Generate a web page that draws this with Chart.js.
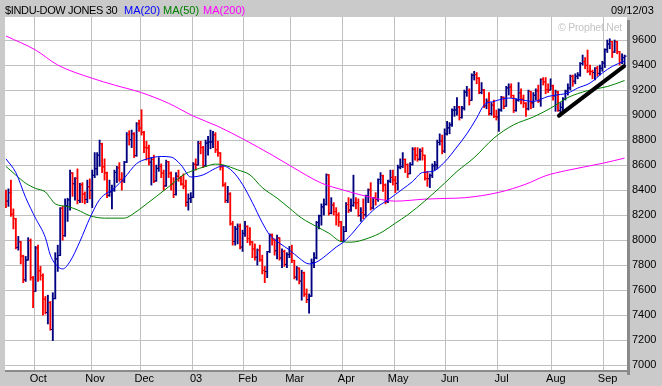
<!DOCTYPE html>
<html><head><meta charset="utf-8">
<script src="https://cdn.jsdelivr.net/npm/chart.js@4.4.1/dist/chart.umd.min.js"></script>
<style>
html,body{margin:0;padding:0;background:#cacaca;}
#wrap{position:relative;width:662px;height:386px;overflow:hidden;background:#cacaca;}
#c{position:absolute;left:0;top:0;}
.hd{position:absolute;top:4px;font-family:"Liberation Sans",Arial,sans-serif;font-size:11px;line-height:13px;white-space:nowrap;}
</style></head><body>
<div id="wrap">
<canvas id="c" width="662" height="386"></canvas>
<div class="hd" style="left:5px;color:#000;letter-spacing:-0.35px;">$INDU-DOW JONES 30</div>
<div class="hd" style="left:124px;color:#0000ff;">MA(20)</div>
<div class="hd" style="left:163px;color:#008000;">MA(50)</div>
<div class="hd" style="left:203px;color:#ff00ff;">MA(200)</div>
<div class="hd" style="left:611px;color:#000;">09/12/03</div>
<div class="hd" style="left:558px;top:21px;font-size:10.5px;letter-spacing:-0.2px;color:#c4c4c4;">© Prophet.Net</div>
</div>
<script>
// Trading days from 2002-09-13 to 2003-09-12 (index 0..251)
const monthLabels = ['Oct','Nov','Dec','03','Feb','Mar','Apr','May','Jun','Jul','Aug','Sep'];
const monthStart  = [12,35,55,76,97,116,137,158,179,200,222,243];
const yTicks = [7000,7200,7400,7600,7800,8000,8200,8400,8600,8800,9000,9200,9400,9600];

const open = [
8379,8312,8380,8207,8172,7942,7986,7872,7683,7841,7997,7701,
7592,7938,7755,7717,7528,7422,7501,7286,7533,7850,7877,8255,8036,8275,8322,8538,8451,8494,8318,8444,8368,8325,8427,
8397,8518,8571,8679,8771,8586,8538,8358,8386,8398,8542,8579,8486,8474,8623,8845,8804,8849,8676,8931,
8896,8862,8742,8737,8623,8645,8473,8574,8589,8536,8433,8627,8535,8448,8365,8511,8493,8448,8432,8303,8332,
8342,8607,8601,8773,8740,8595,8776,8784,8785,8842,8723,8697,8586,8442,8318,8369,8131,7989,8088,8110,7945,
8054,8110,8013,7985,7930,7864,7919,7843,7758,7749,7909,8042,8000,7915,8018,7858,7910,7806,7885,
7891,7838,7705,7775,7673,7740,7568,7525,7552,7822,7859,8141,8195,8266,8286,8522,8215,8280,8229,8201,8145,
7992,8069,8285,8241,8278,8300,8299,8197,8221,8203,8352,8403,8257,8338,8328,8485,8516,8441,8307,8471,8502,
8480,8454,8583,8588,8645,8604,8531,8604,8726,8679,8647,8713,8679,8493,8491,8516,8594,8601,8781,8793,8712,
8850,8898,8922,9039,9041,9063,8980,9055,9184,9197,9118,9318,9324,9294,9180,9201,9073,9110,9012,9080,8989,
8985,9040,9142,9070,9217,9224,9156,9037,9119,9178,9128,9094,9050,9189,9097,9158,9194,9112,9285,9266,9204,9200,
9234,9154,9186,9037,9062,9127,9191,9217,9310,9271,9310,9321,9412,9428,9397,9349,9348,9340,9374,9333,9374,
9416,9523,9568,9588,9504,9587,9507,9420,9459];

const high = [
8400,8410,8480,8250,8175,8030,7990,7880,7870,8020,8010,7710,
7950,7960,7790,7730,7550,7560,7510,7580,7900,7960,8260,8270,8330,8335,8560,8540,8500,8570,8455,8460,8385,8480,8490,
8560,8700,8700,8800,8775,8650,8545,8480,8440,8560,8590,8620,8540,8630,8860,8875,8880,8860,8940,8960,
9043,8870,8790,8760,8660,8680,8600,8660,8610,8560,8640,8630,8545,8500,8540,8560,8510,8530,8480,8370,8380,
8620,8650,8790,8790,8750,8800,8830,8880,8870,8860,8790,8700,8600,8460,8430,8380,8150,8110,8130,8130,8080,
8150,8115,8100,7990,7970,7930,7960,7880,7790,7910,8050,8050,8010,8040,8020,7930,7920,7900,7950,
7960,7840,7790,7780,7760,7745,7610,7570,7850,7900,8150,8200,8290,8330,8530,8525,8340,8300,8260,8220,8150,
8110,8300,8340,8330,8520,8340,8330,8260,8330,8360,8410,8460,8340,8380,8490,8540,8520,8450,8480,8560,8560,
8510,8600,8650,8700,8650,8610,8620,8740,8740,8740,8730,8740,8680,8550,8530,8610,8630,8800,8850,8840,8890,
8950,8940,9050,9070,9140,9070,9070,9200,9230,9210,9330,9350,9340,9300,9260,9205,9130,9180,9100,9120,9040,
9050,9150,9145,9230,9250,9250,9160,9130,9260,9210,9160,9100,9200,9190,9180,9210,9240,9290,9300,9300,9250,9290,
9240,9200,9190,9100,9140,9200,9250,9320,9320,9330,9340,9420,9480,9460,9520,9400,9360,9380,9390,9400,9430,
9530,9600,9610,9590,9600,9590,9510,9490,9480];

const low = [
8260,8270,8190,8090,7930,7920,7810,7660,7670,7840,7680,7460,
7590,7670,7680,7400,7410,7330,7280,7197,7530,7750,7876,8000,8030,8150,8240,8350,8320,8290,8300,8300,8290,8300,8330,
8260,8500,8520,8590,8540,8480,8340,8350,8250,8390,8460,8470,8400,8460,8620,8760,8740,8660,8670,8870,
8840,8700,8640,8600,8440,8460,8470,8550,8500,8400,8430,8500,8400,8340,8360,8470,8440,8410,8270,8240,8300,
8340,8560,8600,8690,8580,8590,8680,8730,8740,8700,8670,8560,8430,8300,8300,8120,7960,7960,7970,7930,7910,
8030,7980,7960,7860,7840,7800,7830,7730,7660,7700,7900,7960,7880,7850,7840,7780,7790,7780,7860,
7820,7690,7680,7650,7520,7550,7500,7416,7550,7780,7850,8090,8120,8200,8280,8200,8210,8200,8120,8110,7990,
7990,8068,8220,8230,8270,8250,8190,8150,8170,8190,8300,8240,8250,8280,8310,8450,8390,8290,8300,8460,8440,
8380,8400,8570,8580,8540,8500,8530,8600,8640,8630,8640,8640,8480,8430,8420,8500,8560,8570,8760,8690,8700,
8840,8850,8910,8990,9000,8960,8975,9040,9150,9080,9117,9280,9250,9170,9170,9060,9050,9000,9000,8980,8960,
8870,9030,9050,9070,9160,9140,9020,9030,9110,9090,9060,8990,9040,9050,9060,9120,9100,9070,9240,9170,9180,9200,
9120,9030,9030,8990,9030,9120,9160,9200,9230,9250,9290,9310,9400,9370,9340,9320,9290,9280,9310,9320,9350,
9380,9500,9530,9460,9500,9490,9400,9410,9380];

const close = [
8312,8380,8207,8172,7942,7986,7872,7683,7841,7997,7701,7592,
7938,7755,7717,7528,7422,7501,7286,7533,7850,7877,8255,8036,8275,8322,8538,8451,8494,8318,8444,8368,8325,8427,8397,
8518,8571,8679,8771,8586,8538,8358,8386,8398,8542,8579,8486,8474,8623,8845,8804,8849,8676,8931,8896,
8862,8742,8737,8623,8645,8473,8574,8589,8536,8433,8627,8535,8448,8365,8511,8493,8448,8432,8303,8332,8342,
8607,8601,8773,8740,8595,8776,8784,8785,8842,8723,8697,8586,8442,8318,8369,8131,7989,8088,8110,7945,8054,
8110,8013,7985,7930,7864,7919,7843,7758,7749,7909,8042,8000,7915,8018,7858,7910,7806,7885,7891,
7838,7705,7775,7673,7740,7568,7525,7552,7822,7859,8141,8195,8266,8286,8522,8215,8280,8229,8201,8145,7992,
8069,8285,8241,8278,8300,8299,8197,8221,8203,8352,8403,8257,8338,8328,8485,8516,8441,8307,8471,8502,8480,
8454,8583,8588,8645,8604,8531,8604,8726,8679,8647,8713,8679,8493,8491,8516,8594,8601,8781,8793,8712,8850,
8898,8922,9039,9041,9063,8980,9055,9184,9197,9118,9318,9324,9294,9180,9201,9073,9110,9012,9080,8989,8985,
9040,9142,9070,9217,9224,9156,9037,9119,9178,9128,9094,9050,9189,9097,9158,9194,9112,9285,9266,9204,9200,9234,
9154,9186,9037,9062,9127,9191,9217,9310,9271,9310,9321,9412,9428,9397,9349,9348,9340,9374,9333,9374,9416,
9523,9568,9588,9504,9587,9507,9420,9459,9471];

// Moving averages (bar index, value)
const ma20X = [0,4,8,12,16,18,21,23,26,30,34,38,44,48,53,57,63,67,71,75,80,85,88,92,96,100,104,107,111,115,119,123,126,130,134,137,141,145,150,155,161,165,169,173,178,183,187,191,194,198,204,209,214,220,224,228,232,237,242,246,251];
const ma20  = [8650,8540,8340,8175,8020,7880,7789,7770,7830,7990,8175,8325,8416,8496,8612,8648,8669,8664,8602,8505,8522,8574,8594,8549,8445,8300,8140,8042,7976,7922,7856,7810,7825,7880,7945,7985,8065,8160,8256,8322,8409,8469,8541,8549,8625,8745,8850,8976,9080,9109,9136,9122,9109,9149,9162,9176,9216,9256,9336,9389,9432];
const ma50X = [0,4,8,12,16,18,20,25,29,34,40,48,52,56,61,67,72,76,81,85,88,94,99,104,110,115,120,126,131,136,140,147,153,158,163,170,178,183,190,198,206,214,221,228,236,244,251];
const ma50  = [8589,8520,8455,8414,8385,8336,8290,8269,8242,8196,8176,8176,8216,8274,8349,8442,8522,8557,8589,8608,8602,8562,8522,8420,8336,8256,8176,8109,8056,7989,7984,8016,8069,8136,8202,8314,8456,8549,8660,8816,8922,8985,9055,9140,9195,9228,9276];
const ma200X = [0,12,21,35,44,55,66,76,86,97,108,116,128,137,147,158,170,179,186,200,211,219,227,242,251];
const ma200  = [9632,9520,9400,9294,9240,9179,9094,8992,8910,8800,8680,8587,8456,8400,8347,8312,8328,8334,8339,8382,8448,8515,8555,8614,8656];
// Hand-drawn trend line (bar index, value)
const trendX = [224.4,250.7];
const trendY = [8995,9390];

const UP = '#000080', DOWN = '#ff0000';
const col = close.map((c,i)=> c >= open[i] ? UP : DOWN);
const hl = close.map((c,i)=>({x:i, y:[low[i], high[i]]}));
const opTicks = open.map((v,i)=>({x:i-0.42, y:v}));
const clTicks = close.map((v,i)=>({x:i+0.42, y:v}));
const pts = (xs, ys) => xs.map((x,i)=>({x:x, y:ys[i]}));

const FONT = {family:'"Liberation Sans", Arial, sans-serif', size:11};

const plotBg = {
  id:'plotBg',
  beforeDraw(chart){
    const {ctx, chartArea:a} = chart;
    ctx.save();
    ctx.fillStyle = '#ffffff';
    ctx.fillRect(a.left, a.top, a.right-a.left, a.bottom-a.top);
    ctx.restore();
  },
  afterDraw(chart){
    const {ctx, chartArea:a} = chart;
    ctx.save();
    ctx.fillStyle = '#8a8a8a';
    ctx.fillRect(a.right, a.top+3, 3, a.bottom-a.top+2);
    ctx.fillRect(a.left, a.bottom, a.right-a.left+3, 2);
    ctx.restore();
  }
};

new Chart(document.getElementById('c'), {
  type:'bar',
  data:{datasets:[
    {type:'line', data:pts(trendX,trendY), borderColor:'#000000', borderWidth:4, pointRadius:0, borderCapStyle:'round', order:0},
    {type:'line', data:pts(ma20X,ma20), borderColor:'#0000ff', borderWidth:1, pointRadius:0, cubicInterpolationMode:'monotone', order:1},
    {type:'line', data:pts(ma50X,ma50), borderColor:'#008000', borderWidth:1, pointRadius:0, cubicInterpolationMode:'monotone', order:2},
    {type:'line', data:pts(ma200X,ma200), borderColor:'#ff00ff', borderWidth:1, pointRadius:0, cubicInterpolationMode:'monotone', order:3},
    {type:'scatter', data:opTicks, pointStyle:'line', pointRadius:1.1, pointBorderWidth:1, pointBorderColor:col, pointBackgroundColor:col, order:4},
    {type:'scatter', data:clTicks, pointStyle:'line', pointRadius:1.1, pointBorderWidth:1, pointBorderColor:col, pointBackgroundColor:col, order:4},
    {type:'bar', data:hl, backgroundColor:col, borderWidth:0, barThickness:1.2, grouped:false, order:5}
  ]},
  options:{
    responsive:false, animation:false, devicePixelRatio:1, events:[],
    layout:{padding:{top:17,left:0,right:0,bottom:0}},
    plugins:{legend:{display:false}, tooltip:{enabled:false}, title:{display:false}},
    scales:{
      x:{type:'linear', position:'bottom', min:-0.4, max:252, offset:false,
         grid:{color:'#c0c0c0', lineWidth:1, drawTicks:false, offset:false},
         border:{display:false},
         ticks:{autoSkip:false, maxRotation:0, padding:2, labelOffset:4, color:'#000', font:FONT,
                callback:(v,i)=>monthLabels[i]},
         afterBuildTicks:s=>{ s.ticks = monthStart.map(m=>({value:m-0.5})); },
         afterFit:s=>{ s.height = 16; }
      },
      y:{type:'linear', position:'right', min:6962, max:9784,
         grid:{color:'#c0c0c0', lineWidth:1, drawTicks:false},
         border:{display:false},
         ticks:{autoSkip:false, padding:5, color:'#000', font:FONT, callback:v=>String(v)},
         afterBuildTicks:s=>{ s.ticks = yTicks.map(v=>({value:v})); },
         afterFit:s=>{ s.width = 35; }
      }
    }
  },
  plugins:[plotBg]
});
</script>
</body></html>
